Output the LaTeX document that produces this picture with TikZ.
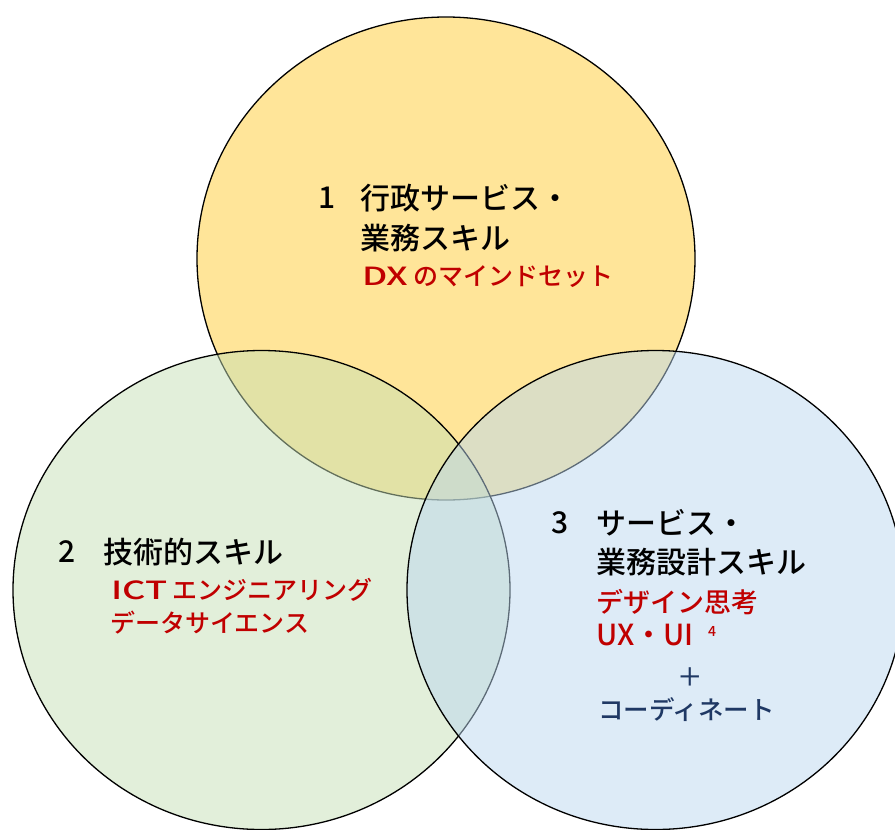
\documentclass[tikz,border=0pt]{standalone}
\usepackage{fontspec}
\newfontfamily\jp{Noto Sans CJK JP}[UprightFont={* Medium}]
\newfontfamily\jpwide{Noto Sans CJK JP}[UprightFont={* Medium}, FakeStretch=1.45]

\definecolor{dxred}{HTML}{C00000}
\definecolor{dxnavy}{HTML}{1F3864}
\definecolor{dxyellow}{RGB}{255,203,51}
\definecolor{dxgreen}{RGB}{197,223,181}
\definecolor{dxblue}{RGB}{187,215,239}

\newcommand{\latinword}[1]{{\jpwide #1}}

\tikzset{
  venn/.style = {draw=black, line width=1.3pt, fill opacity=0.5},
  skill/.style = {anchor=west, inner sep=0pt, text=black,
    font=\jp\fontsize{30}{35}\selectfont},
  detail/.style = {anchor=west, inner sep=0pt, text=dxred,
    font=\jp\fontsize{25}{30}\selectfont},
  coord/.style = {anchor=west, inner sep=0pt, text=dxnavy,
    font=\jp\fontsize{25.5}{30}\selectfont},
}

\begin{document}
\begin{tikzpicture}[
      x = 1pt,
      y = -1pt,
  ]

  \useasboundingbox (0,0) rectangle (895,830);
  \clip (0,0) rectangle (895,830);

  % three overlapping fields
  \draw [venn, fill=dxyellow] (446,258.5) ellipse [x radius=249, y radius=241.5];
  \draw [venn, fill=dxgreen] (261.5,590) ellipse [x radius=248.5, y radius=239.5];
  \draw [venn, fill=dxblue] (655.5,590) ellipse [x radius=248.5, y radius=239.5];

  % 1
  \node[skill] (num1) at (318,198) {1};
  \node[skill] (top1) at (360,198) {行政サービス・};
  \node[skill] (top2) at (360,238) {業務スキル};
  \node[detail] (top3) at (362,277) {\latinword{DX} のマインドセット};

  % 2
  \node[skill] (num2) at (58,552) {2};
  \node[skill] (left1) at (103,552) {技術的スキル};
  \node[detail] (left2) at (111,590) {\latinword{ICT} エンジニアリング};
  \node[detail] (left3) at (110,623) {データサイエンス};

  % 3
  \node[skill] (num3) at (551,523) {3};
  \node[skill] (right1) at (596,523) {サービス・};
  \node[skill] (right2) at (596,562) {業務設計スキル};
  \node[detail, font=\jp\fontsize{27}{32}\selectfont] (right3) at (596,602) {デザイン思考};
  \node[detail, font=\jp\fontsize{29}{34}\selectfont] (right4) at (596,635) {UX・UI};
  \node[detail, font=\jp\fontsize{14}{16}\selectfont] (sup4) at (708,631) {4};
  \node[coord] (plus) at (677,677) {＋};
  \node[coord] (right5) at (598,710) {コーディネート};

\end{tikzpicture}
\end{document}
